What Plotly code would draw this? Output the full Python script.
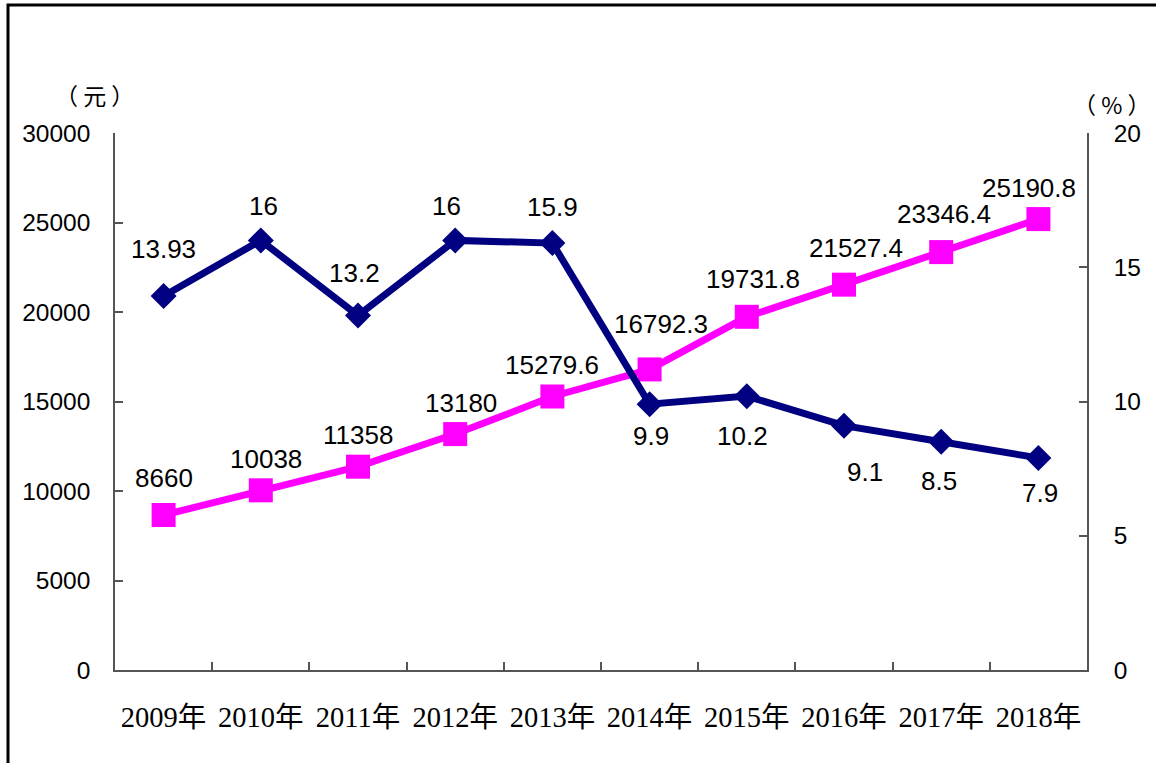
import plotly.graph_objects as go

years = ["2009年", "2010年", "2011年", "2012年", "2013年",
         "2014年", "2015年", "2016年", "2017年", "2018年"]
income = [8660, 10038, 11358, 13180, 15279.6, 16792.3, 19731.8, 21527.4, 23346.4, 25190.8]
growth = [13.93, 16, 13.2, 16, 15.9, 9.9, 10.2, 9.1, 8.5, 7.9]
income_labels = ["8660", "10038", "11358", "13180", "15279.6", "16792.3",
                 "19731.8", "21527.4", "23346.4", "25190.8"]
growth_labels = ["13.93", "16", "13.2", "16", "15.9", "9.9", "10.2", "9.1", "8.5", "7.9"]

# label nudges (pixels): (dx, dy) where dy positive = up
income_nudge = [(0, 37), (5, 31), (0, 32), (6, 31), (0, 32), (11, 45),
                (6, 38), (12, 37), (3, 38), (-9, 31)]
growth_nudge = [(0, 47), (3, 34), (-4, 43), (-9, 34), (0, 36), (1, -32),
                (-4, -40), (21, -46), (-2, -39), (2, -35)]

PINK = "#FF00FF"
NAVY = "#000080"
SANS = "Liberation Sans, Arial, sans-serif"
SERIF = "Liberation Serif, Times New Roman, Noto Sans CJK SC, serif"
CJK = "Noto Sans CJK SC, sans-serif"

fig = go.Figure()
fig.add_trace(go.Scatter(
    x=years, y=income, mode="lines+markers", yaxis="y",
    line=dict(color=PINK, width=7),
    marker=dict(symbol="square", size=24, color=PINK),
    showlegend=False, hoverinfo="skip"))
fig.add_trace(go.Scatter(
    x=years, y=growth, mode="lines+markers", yaxis="y2",
    line=dict(color=NAVY, width=7),
    marker=dict(symbol="diamond", size=20, color=NAVY),
    showlegend=False, hoverinfo="skip"))

annotations = []
for xv, yv, t, (dx, dy) in zip(years, income, income_labels, income_nudge):
    annotations.append(dict(x=xv, y=yv, xref="x", yref="y", text=t, showarrow=False,
                            xanchor="center", yanchor="middle",
                            xshift=dx, yshift=dy, font=dict(family=SANS, size=26, color="black")))
for xv, yv, t, (dx, dy) in zip(years, growth, growth_labels, growth_nudge):
    annotations.append(dict(x=xv, y=yv, xref="x", yref="y2", text=t, showarrow=False,
                            xanchor="center", yanchor="middle",
                            xshift=dx, yshift=dy, font=dict(family=SANS, size=26, color="black")))

# axis unit titles
annotations.append(dict(x=(94 - 115) / 972, y=(670 - 95) / 537, xref="paper", yref="paper",
                        xanchor="center", yanchor="middle",
                        text="（ 元 ）", showarrow=False,
                        font=dict(family=CJK, size=23, color="black")))
annotations.append(dict(x=(1112 - 115) / 972, y=(670 - 104) / 537, xref="paper", yref="paper",
                        xanchor="center", yanchor="middle",
                        text="（ % ）", showarrow=False,
                        font=dict(family=CJK, size=23, color="black")))

AX = "#555555"
fig.update_layout(
    width=1156, height=763,
    margin=dict(l=115, r=69, t=133, b=93),
    paper_bgcolor="white", plot_bgcolor="white",
    annotations=annotations,
    xaxis=dict(type="category", range=[-0.5, 9.5], showgrid=False, showline=True,
               linecolor=AX, linewidth=1.5,
               ticks="inside", tickson="boundaries", ticklen=8, tickcolor=AX, tickwidth=1.5,
               tickfont=dict(family=SERIF, size=28.5, color="black"), ticklabelstandoff=21,
               fixedrange=True),
    yaxis=dict(range=[0, 30000], dtick=5000, tickformat="d", showgrid=False, showline=True,
               linecolor=AX, linewidth=1.5, ticks="inside", ticklen=8, tickcolor=AX, tickwidth=1.5,
               zeroline=False, tickfont=dict(family=SANS, size=24.5, color="black"),
               ticklabelstandoff=18, fixedrange=True),
    yaxis2=dict(range=[0, 20], dtick=5, tickformat="d", overlaying="y", side="right",
                showgrid=False, showline=True, linecolor=AX, linewidth=1.5, ticks="inside",
                ticklen=8, tickcolor=AX, tickwidth=1.5, zeroline=False,
                tickfont=dict(family=SANS, size=24.5, color="black"),
                ticklabelstandoff=20, fixedrange=True),
    shapes=[dict(type="rect", xref="paper", yref="paper",
                 x0=(8 - 115) / 972, x1=(1170 - 115) / 972,
                 y0=(670 - 780) / 537, y1=(670 - 5) / 537,
                 line=dict(color="black", width=3), fillcolor="rgba(0,0,0,0)", layer="below")],
)

fig.write_html("out.html", config={"displayModeBar": False},
               post_script="document.body.style.margin='0';document.body.style.padding='0';")
